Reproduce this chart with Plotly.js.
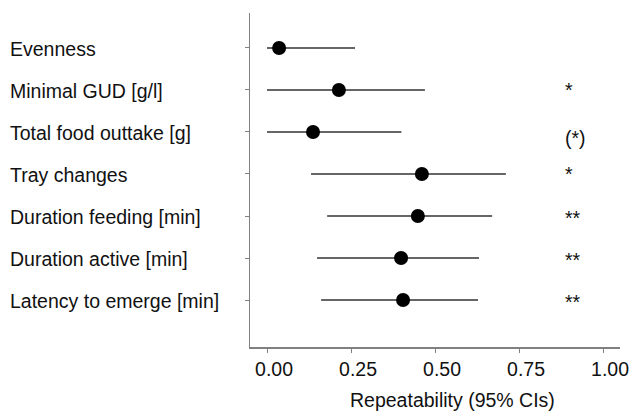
<!DOCTYPE html>
<html>
<head>
<meta charset="utf-8">
<script src="https://cdn.plot.ly/plotly-3.0.1.min.js"></script>
<style>html,body{margin:0;padding:0;background:#fff;}#chart{width:633px;height:415px;}</style>
</head>
<body>
<div id="chart"></div>
<script>
// Data
var traits = ["Evenness", "Minimal GUD [g/l]", "Total food outtake [g]", "Tray changes",
              "Duration feeding [min]", "Duration active [min]", "Latency to emerge [min]"];
var estimate = [0.036, 0.214, 0.137, 0.461, 0.449, 0.399, 0.405];
var ciLower  = [0.000, 0.000, 0.000, 0.131, 0.179, 0.149, 0.161];
var ciUpper  = [0.262, 0.470, 0.400, 0.711, 0.670, 0.631, 0.628];
var significance = ["", "*", "(*)", "*", "**", "**", "**"];
var xTickVals = [0, 0.25, 0.5, 0.75, 1];
var xTickText = ["0.00", "0.25", "0.50", "0.75", "1.00"];

var n = traits.length;
var yPos = traits.map(function (_, i) { return n - 1 - i; });
var errPlus = estimate.map(function (v, i) { return ciUpper[i] - v; });
var errMinus = estimate.map(function (v, i) { return v - ciLower[i]; });

var FONT = "Liberation Sans, Arial, sans-serif";
var sigShift = { "*": 0, "**": -1.5, "(*)": -6 };

var trace = {
  type: "scatter", mode: "markers",
  x: estimate, y: yPos,
  marker: { color: "#000", size: 14 },
  error_x: { type: "data", symmetric: false, array: errPlus, arrayminus: errMinus,
             color: "#333", thickness: 1.6, width: 0 },
  hoverinfo: "skip", showlegend: false
};

var annotations = [];
traits.forEach(function (t, i) {
  annotations.push({
    xref: "paper", yref: "y", x: -0.654, y: yPos[i],
    text: t, showarrow: false, xanchor: "left", yanchor: "middle",
    font: { family: FONT, size: 19.5, color: "#111" }, yshift: -1
  });
  if (significance[i]) {
    annotations.push({
      xref: "x", yref: "y", x: 0.881, y: yPos[i],
      text: significance[i], showarrow: false, xanchor: "left", yanchor: "middle",
      font: { family: FONT, size: 19.5, color: "#111" },
      yshift: sigShift[significance[i]]
    });
  }
});
annotations.push({
  xref: "paper", yref: "paper", x: (452 - 250) / 370, y: -0.1587,
  text: "Repeatability (95% CIs)", showarrow: false, xanchor: "center", yanchor: "middle",
  font: { family: FONT, size: 19.5, color: "#111" }
});

var layout = {
  width: 633, height: 415,
  margin: { l: 250, r: 13, t: 13, b: 68 },
  paper_bgcolor: "#fff", plot_bgcolor: "#fff",
  font: { family: FONT, size: 19.5, color: "#111" },
  xaxis: {
    range: [-0.0506, 1.0506], tickvals: xTickVals, ticktext: xTickText,
    showgrid: false, zeroline: false, showline: true, linecolor: "#808080", linewidth: 1.5,
    ticks: "outside", ticklen: 4, tickcolor: "#808080", tickwidth: 1,
    ticklabelshift: 7,
    tickfont: { family: FONT, size: 19.5, color: "#111" }
  },
  yaxis: {
    range: [-1.119, 6.833], tickvals: yPos, showticklabels: false,
    showgrid: false, zeroline: false, showline: true, linecolor: "#808080", linewidth: 1.5,
    ticks: "outside", ticklen: 4, tickcolor: "#808080", tickwidth: 1
  },
  annotations: annotations
};

Plotly.newPlot("chart", [trace], layout, { displayModeBar: false, staticPlot: true });
</script>
</body>
</html>
